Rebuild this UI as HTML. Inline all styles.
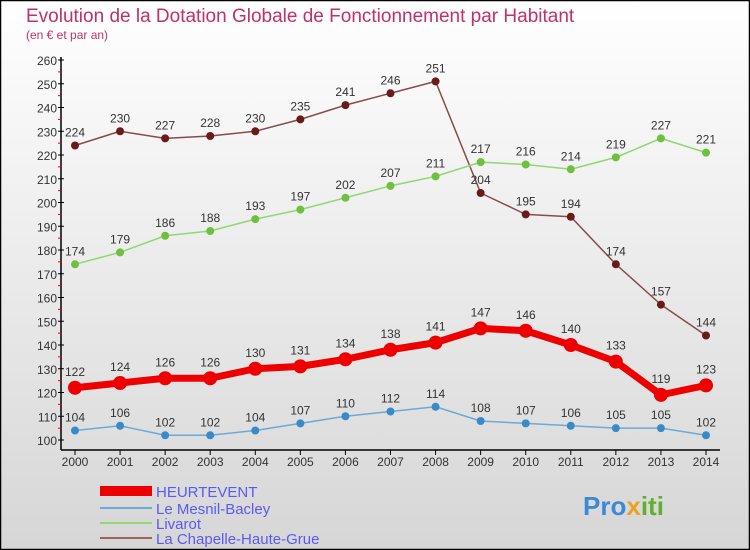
<!DOCTYPE html>
<html><head><meta charset="utf-8"><style>
body{margin:0}
#c{width:750px;height:550px;position:relative;overflow:hidden;font-family:"Liberation Sans",sans-serif}
</style></head><body>
<div id="c">
<svg id="s" width="750" height="550" xmlns="http://www.w3.org/2000/svg">
<defs><linearGradient id="bg" x1="0" y1="0" x2="0" y2="1"><stop offset="0" stop-color="#ffffff"/><stop offset="1" stop-color="#d6d6d6"/></linearGradient></defs>
<rect x="0.5" y="0.5" width="749" height="549" fill="url(#bg)" stroke="#000" stroke-width="1.5"/>
<text x="26" y="22" font-size="19" fill="#c0306a">Evolution de la Dotation Globale de Fonctionnement par Habitant</text>
<text x="26" y="39" font-size="12" fill="#c0306a">(en € et par an)</text>
<g id="axes"></g><g id="series"></g>
<g>
<rect x="100" y="486" width="52" height="10" fill="#e00"/>
<text x="156" y="497" font-size="15" fill="#5a5af0">HEURTEVENT</text>
<line x1="100" y1="508" x2="152" y2="508" stroke="#6aaad8" stroke-width="2"/>
<text x="156" y="514" font-size="15" fill="#5a5af0">Le Mesnil-Bacley</text>
<line x1="100" y1="523" x2="152" y2="523" stroke="#90d870" stroke-width="2"/>
<text x="156" y="529" font-size="15" fill="#5a5af0">Livarot</text>
<line x1="100" y1="538" x2="152" y2="538" stroke="#a06060" stroke-width="2"/>
<text x="156" y="544" font-size="15" fill="#5a5af0">La Chapelle-Haute-Grue</text>
</g>
<text x="583" y="515" font-size="26" font-weight="bold" fill="#3a8ad8">Pro<tspan fill="#f0a020">x</tspan><tspan fill="#60b030">iti</tspan></text>
</svg>
</div>
<script>
const years=[2000,2001,2002,2003,2004,2005,2006,2007,2008,2009,2010,2011,2012,2013,2014];
const yTicks=[100,110,120,130,140,150,160,170,180,190,200,210,220,230,240,250,260];
const heurtevent=[122,124,126,126,130,131,134,138,141,147,146,140,133,119,123];
const mesnil=[104,106,102,102,104,107,110,112,114,108,107,106,105,105,102];
const livarot=[174,179,186,188,193,197,202,207,211,217,216,214,219,227,221];
const chapelle=[224,230,227,228,230,235,241,246,251,204,195,194,174,157,144];
const NS='http://www.w3.org/2000/svg';
const x=i=>75+i*(706-75)/(years.length-1);
const y=v=>440-(v-100)*(380/160);
function mk(tag,attrs,parent){const e=document.createElementNS(NS,tag);for(const k in attrs)e.setAttribute(k,attrs[k]);parent.appendChild(e);return e;}
const ax=document.getElementById('axes');
mk('line',{x1:61,y1:57,x2:61,y2:450,stroke:'#000','stroke-width':1.5},ax);
mk('line',{x1:61,y1:450,x2:720,y2:450,stroke:'#000','stroke-width':1.5},ax);
yTicks.forEach(v=>{
 mk('line',{x1:58,y1:y(v),x2:64,y2:y(v),stroke:'#000'},ax);
 if(v<260)mk('line',{x1:58,y1:y(v+5),x2:62,y2:y(v+5),stroke:'#e00'},ax);
 const t=mk('text',{x:57,y:y(v)+5,'font-size':12,fill:'#333','text-anchor':'end'},ax);
 
 
 t.textContent=v;
});
years.forEach((yr,i)=>{
 mk('line',{x1:x(i),y1:450,x2:x(i),y2:455,stroke:'#000'},ax);
 const t=mk('text',{x:x(i),y:466,'font-size':12,fill:'#333','text-anchor':'middle'},ax);
 
 
 t.textContent=yr;
});
const sg=document.getElementById('series');
function series(name,data,color,dot,w,r){
 const g=mk('g',{},sg);
 
 
 mk('polyline',{points:data.map((v,i)=>x(i)+','+y(v)).join(' '),fill:'none',stroke:color,'stroke-width':w,'stroke-linejoin':'round'},g);
 data.forEach((v,i)=>{
  const c=mk('circle',{cx:x(i),cy:y(v),r:r,fill:dot},g);
  
  
  const t=mk('text',{x:x(i),y:y(v)-9-(r>5?3:0),'font-size':12,fill:'#333','text-anchor':'middle'},g);
  
  
  t.textContent=v;
 });
}
series('la-chapelle-series',chapelle,'#8a4a4a','#6a1a1a',1.5,4);
series('livarot-series',livarot,'#90d870','#70c040',1.5,4);
series('mesnil-series',mesnil,'#6aaad8','#3a8ac8',1.5,4);
series('heurtevent-series',heurtevent,'#ee0000','#ee0000',7,7);
</script>
</body></html>
